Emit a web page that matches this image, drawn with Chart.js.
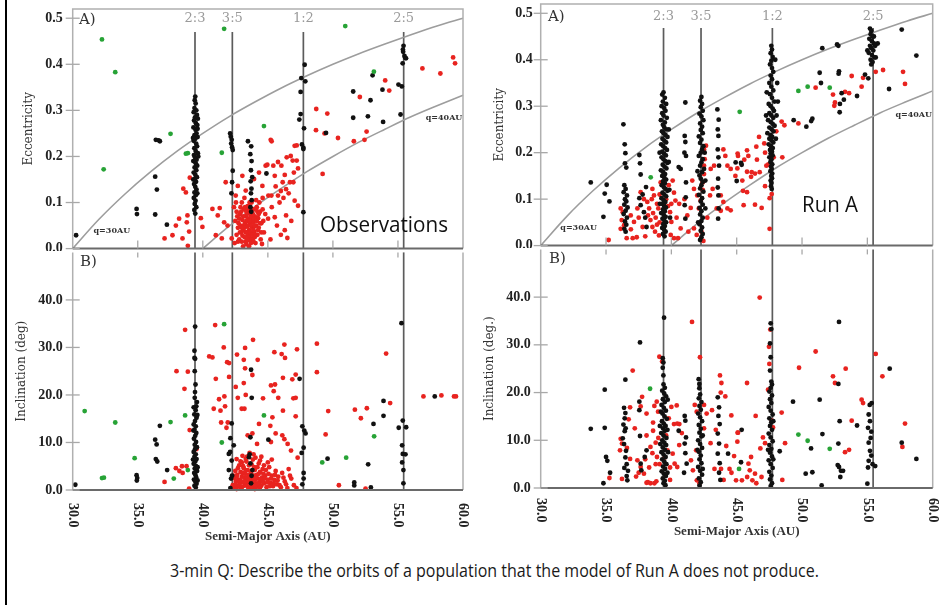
<!DOCTYPE html>
<html>
<head>
<meta charset="utf-8">
<script src="https://cdn.jsdelivr.net/npm/chart.js@4.4.0/dist/chart.umd.min.js"></script>
<style>
  body { margin: 0; background: #fff; width: 951px; height: 605px; overflow: hidden; position: relative; }
  .panel { position: absolute; }
  #edge { position: absolute; left: 5px; top: 0; width: 2px; height: 605px; background: #000; }
  #caption { position: absolute; left: 170px; top: 557px; white-space: nowrap; font-family: "Open Sans", sans-serif; font-size: 19px; color: #1a1a1a; transform-origin: 0 0; }
</style>
</head>
<body>
<div id="edge"></div>
<canvas id="obsA" class="panel" style="left:0;top:0" width="475" height="251"></canvas>
<canvas id="obsB" class="panel" style="left:0;top:250px" width="475" height="300"></canvas>
<canvas id="runA" class="panel" style="left:470px;top:0" width="475" height="248"></canvas>
<canvas id="runB" class="panel" style="left:470px;top:247px" width="475" height="300"></canvas>
<div id="caption">3-min Q: Describe the orbits of a population that the model of Run A does not produce.</div>
<script>
// axes
const xTicks = [30, 35, 40, 45, 50, 55, 60];
const eccTicks = [0, 0.1, 0.2, 0.3, 0.4, 0.5];
const incTicks = [0, 10, 20, 30, 40];
const resonances = [39.4, 42.27, 47.73, 55.44];
const resonanceNames = ['2:3', '3:5', '1:2', '2:5'];

// perihelion curves
const q30Curve = [[30,0],[32,0.063],[34,0.118],[36,0.167],[38,0.211],[40,0.25],[42,0.286],[44,0.318],[46,0.348],[48,0.375],[50,0.4],[52,0.423],[54,0.444],[56,0.464],[58,0.483],[60,0.5]];
const q40Curve = [[40,0],[42,0.048],[44,0.091],[46,0.13],[48,0.167],[50,0.2],[52,0.231],[54,0.259],[56,0.286],[58,0.31],[60,0.333]];

// Observations: semi-major axis vs eccentricity
const obsEccGreen = [[32.25,0.454],[33.27,0.383],[32.38,0.172],[37.52,0.249],[38.70,0.206],[38.85,0.207],[41.64,0.477],[41.46,0.208],[44.7,0.266],[50.95,0.483],[53.15,0.384]];
const obsEccBlack = [[30.26,0.029],[34.91,0.086],[34.94,0.075],[36.34,0.156],[36.47,0.128],[36.34,0.074],[36.39,0.236],[36.7,0.233],[36.6,0.235],[37.24,0.052],
  [39.42,0.33],[39.38,0.322],[39.45,0.315],[39.36,0.305],[39.5,0.3],[39.3,0.296],[39.55,0.29],[39.4,0.285],[39.62,0.282],[39.33,0.278],[39.47,0.272],[39.58,0.268],[39.28,0.263],[39.44,0.258],[39.52,0.25],[39.36,0.246],[39.6,0.242],[39.41,0.238],[39.3,0.234],[39.49,0.228],[39.56,0.222],[39.35,0.218],[39.45,0.212],[39.62,0.207],[39.32,0.203],[39.4,0.198],[39.52,0.193],[39.27,0.19],[39.46,0.185],[39.57,0.18],[39.37,0.176],[39.5,0.17],[39.3,0.165],[39.43,0.16],[39.55,0.155],[39.38,0.15],[39.48,0.145],[39.33,0.14],[39.42,0.134],[39.52,0.128],[39.36,0.122],[39.46,0.116],[39.31,0.11],[39.44,0.104],[39.38,0.097],[39.5,0.09],[39.35,0.084],[39.42,0.076],[39.6,0.26],[39.25,0.24],[39.65,0.2],[39.27,0.15],[39.58,0.12],
  [42.1,0.25],[42.15,0.243],[42.22,0.236],[42.18,0.228],[42.25,0.22],[42.3,0.214],[42.3,0.169],[42.25,0.144],[42.2,0.12],
  [43.47,0.233],[43.72,0.222],[43.65,0.205],[43.75,0.19],[43.7,0.17],[43.8,0.155],[43.68,0.146],[43.74,0.13],[43.7,0.12],[43.76,0.105],[43.66,0.09],[43.72,0.08],[44.89,0.163],
  [47.83,0.399],[47.57,0.37],[47.88,0.363],[47.52,0.34],[47.52,0.292],[47.42,0.28],[47.78,0.261],[47.62,0.226],[47.73,0.219],[47.73,0.216],[47.73,0.079],
  [49.47,0.251],[51.56,0.341],[51.56,0.284],[52.89,0.322],[52.69,0.287],[53.05,0.376],[53.81,0.345],[53.86,0.275],
  [55.43,0.44],[55.38,0.432],[55.4,0.427],[55.5,0.418],[55.56,0.414],[55.62,0.413],[55.36,0.402],[55.04,0.356],[55.3,0.352],[55.2,0.291]];
const obsEccRed = [[42.5,0.06],[42.6,0.03],[42.7,0.045],[42.8,0.02],[42.85,0.075],[42.9,0.05],[42.95,0.035],[43.0,0.015],[43.05,0.062],[43.1,0.04],[43.15,0.085],[43.2,0.025],[43.25,0.055],[43.3,0.07],[43.3,0.035],[43.35,0.01],[43.4,0.048],[43.45,0.092],[43.45,0.028],[43.5,0.065],[43.55,0.04],[43.6,0.078],[43.6,0.018],[43.65,0.055],[43.7,0.032],[43.75,0.1],[43.75,0.068],[43.8,0.045],[43.85,0.022],[43.9,0.085],[43.9,0.058],[43.95,0.036],[44.0,0.07],[44.05,0.012],[44.1,0.05],[44.15,0.09],[44.2,0.03],[44.25,0.066],[44.3,0.045],[44.4,0.08],[44.45,0.02],[44.5,0.055],[44.6,0.11],[44.7,0.035],[44.8,0.075],[42.4,0.09],[42.45,0.012],[42.55,0.1],[42.65,0.07],[42.75,0.055],[43.0,0.1],[43.1,0.005],[43.2,0.11],[43.35,0.06],[43.55,0.005],[43.65,0.09],[43.85,0.06],[44.0,0.025],[44.35,0.1],[44.55,0.01],[43.4,0.075],[43.95,0.048],[44.2,0.08],[43.15,0.05],[43.7,0.012],[42.9,0.09],[44.65,0.06],
  [42.6,0.08],[42.7,0.015],[42.8,0.065],[42.95,0.08],[43.05,0.028],[43.1,0.07],[43.2,0.045],[43.25,0.09],[43.3,0.015],[43.4,0.035],[43.45,0.06],[43.5,0.05],[43.5,0.085],[43.55,0.025],[43.6,0.06],[43.65,0.035],[43.7,0.07],[43.7,0.05],[43.75,0.02],[43.8,0.085],[43.8,0.03],[43.85,0.075],[43.9,0.04],[43.95,0.065],[44.0,0.05],[44.05,0.085],[44.1,0.03],[44.15,0.06],[44.25,0.04],[44.3,0.075],[44.4,0.055],[44.5,0.035],[44.6,0.085],[43.35,0.08],[43.6,0.1],[44.1,0.105],[42.85,0.035],[43.0,0.045],[43.4,0.02],[43.9,0.015],
  [39.0,0.154],[38.5,0.13],[38.7,0.122],[38.82,0.072],[38.77,0.057],[38.95,0.037],[38.44,0.022],[37.93,0.05],[37.67,0.029],[37.06,0.022],[38.18,0.065],[38.85,0.006],[39.85,0.066],[39.97,0.047],[40.74,0.086],[41.15,0.072],[41.3,0.088],[41.64,0.057],[41.76,0.144],[41.9,0.05],[41.0,0.029],[41.46,0.022],[42.22,0.022],[42.53,0.115],[42.69,0.136],[43.04,0.158],[43.3,0.126],[43.94,0.151],[44.32,0.165],[44.83,0.18],[44.58,0.136],[45.29,0.233],[45.04,0.115],
  [45.22,0.236],[44.96,0.182],[45.42,0.18],[45.78,0.188],[46.04,0.18],[46.45,0.198],[46.76,0.201],[47.06,0.223],[47.22,0.224],[46.91,0.191],[47.22,0.191],[47.32,0.174],[45.53,0.158],[46.14,0.144],[46.7,0.144],[46.96,0.144],[46.4,0.129],[45.78,0.115],[45.27,0.115],[47.32,0.093],[46.4,0.072],[46.3,0.04],[46.5,0.023],[45.53,0.068],[45.02,0.065],[47.06,0.104],[45.9,0.1],[46.2,0.11],[46.6,0.12],[45.6,0.135],[46.0,0.125],[45.3,0.09],[45.7,0.05],[46.0,0.03],[45.2,0.02],[46.8,0.06],[47.0,0.165],[46.3,0.16],
  [48.72,0.303],[49.57,0.293],[48.7,0.257],[49.36,0.25],[50.39,0.24],[51.61,0.233],[52.07,0.329],[52.43,0.236],[52.59,0.254],[54.02,0.365],[54.33,0.343],[56.88,0.391],[58.26,0.38],[59.24,0.415],[59.39,0.402],[49.21,0.162]];

// Observations: semi-major axis vs inclination (deg)
const obsIncGreen = [[30.92,16.6],[33.27,14.2],[34.76,6.7],[32.25,2.5],[32.4,2.6],[37.52,14.3],[37.77,2.4],[38.64,15.7],[38.85,4.2],[41.64,34.9],[41.46,10.0],[44.7,15.7],[49.18,5.8],[51.02,6.8],[53.17,11.3]];
const obsIncBlack = [[30.2,1.1],[34.91,3.1],[34.96,2.5],[34.93,2.0],[36.34,10.6],[36.45,9.6],[36.39,6.5],[36.5,6.0],[36.7,13.5],[37.26,4.2],
  [39.41,34.4],[39.36,29.3],[39.36,27.8],[39.41,27.6],[39.38,25.0],[39.44,22.2],[39.4,20.6],[39.38,19.4],[39.5,17.6],[39.3,17.4],[39.45,16.8],[39.35,15.9],[39.52,15.2],[39.4,14.5],[39.3,13.8],[39.46,13.4],[39.36,12.7],[39.5,12.0],[39.42,11.4],[39.32,10.8],[39.48,10.1],[39.38,9.5],[39.55,9.0],[39.4,8.6],[39.3,8.0],[39.46,7.5],[39.36,7.0],[39.52,6.5],[39.42,6.0],[39.3,5.5],[39.48,5.0],[39.38,4.5],[39.56,4.0],[39.34,3.6],[39.44,3.1],[39.5,2.6],[39.32,2.2],[39.42,1.8],[39.52,1.3],[39.36,0.9],[39.46,0.5],[39.6,4.8],[39.25,6.4],[39.6,2.0],[39.28,12.5],[39.58,15.8],[39.55,18.5],
  [42.22,14.0],[42.12,10.9],[42.38,9.4],[42.0,7.6],[42.22,6.2],[42.0,4.2],[42.17,2.4],[42.12,0.4],[42.25,3.0],[42.1,8.0],
  [43.71,25.3],[43.76,19.4],[43.66,11.1],[43.55,6.9],[43.66,5.6],[43.81,4.2],[43.71,1.4],[43.6,7.5],[43.75,3.0],
  [45.04,10.6],[47.44,23.4],[47.65,13.4],[47.8,12.5],[47.9,11.9],[47.75,8.9],[47.6,7.8],[47.75,3.6],[47.75,2.4],[47.65,1.2],[49.59,6.6],[51.64,1.6],[51.64,0.97],[52.92,0.55],[52.71,5.4],[53.12,13.9],[53.89,18.75],[53.89,15.6],[55.27,35.1],[55.37,14.6],[55.06,13.1],[55.63,13.2],[55.32,9.4],[55.37,7.6],[55.58,7.5],[55.32,5.8],[55.42,4.2],[55.42,1.4],[57.83,19.7]];
const obsIncRed = [[38.64,33.7],[37.98,25.0],[38.85,24.9],[38.59,21.3],[38.99,12.6],[38.4,5.0],[38.75,5.0],[37.93,4.6],[38.2,4.0],[38.45,3.6],[37.06,1.7],[38.95,0.3],[39.51,8.6],
  [40.49,28.1],[40.74,27.9],[40.95,34.7],[41.61,30.0],[41.87,26.9],[42.02,26.7],[41.0,23.4],[42.02,23.8],[41.66,19.7],[41.25,19.1],[40.84,17.1],[41.36,16.7],[41.71,17.6],[41.41,14.2],[41.82,13.1],[41.92,14.2],
  [42.63,28.5],[43.25,29.9],[43.15,27.4],[43.25,25.6],[43.86,31.6],[44.22,27.4],[43.81,24.2],[43.15,22.5],[42.53,21.7],[42.69,19.4],[43.3,20.0],[42.99,17.1],[43.2,17.1],[44.63,19.3],[45.5,29.0],[46.06,28.6],[46.27,30.6],[46.32,27.8],[45.55,22.2],[45.24,22.0],[45.45,20.8],[45.8,19.4],[46.16,23.6],[46.88,23.3],[47.24,29.6],[47.14,24.3],[46.96,19.3],[47.14,19.4],[46.16,16.7],[45.35,15.3],[45.19,13.5],[45.6,11.9],[46.11,11.5],[47.14,15.5],[44.32,13.9],[43.81,11.9],[43.45,11.5],[44.17,9.7],[45.24,10.1],[46.27,10.7],[46.52,9.7],[46.78,8.3],[47.29,6.8],
  [48.77,30.8],[48.77,24.8],[49.44,11.7],[49.64,16.6],[50.46,1.0],[51.69,16.9],[52.15,15.1],[52.61,17.2],[52.51,0.3],[54.09,28.7],[54.4,18.3],[56.96,19.7],[58.34,19.9],[59.31,19.7],[59.46,19.7],
  [42.3,1.0],[42.4,2.5],[42.45,0.5],[42.5,4.0],[42.55,1.8],[42.6,6.5],[42.65,3.2],[42.7,0.8],[42.75,2.2],[42.8,5.2],[42.85,1.4],[42.9,3.8],[42.95,0.3],[43.0,2.8],[43.05,7.2],[43.1,1.6],[43.15,4.6],[43.2,0.9],[43.25,3.4],[43.3,2.0],[43.35,6.0],[43.4,1.2],[43.45,4.2],[43.5,0.4],[43.55,2.6],[43.6,7.8],[43.65,1.8],[43.7,3.6],[43.75,5.4],[43.8,1.0],[43.85,2.8],[43.9,0.5],[43.95,4.8],[44.0,2.0],[44.05,6.8],[44.1,1.3],[44.15,3.2],[44.2,0.7],[44.25,2.4],[44.3,5.6],[44.35,1.6],[44.4,3.8],[44.5,0.9],[44.55,2.6],[44.6,4.4],[44.7,1.4],[44.8,3.0],[44.9,0.6],[45.0,2.2],[45.1,4.8],[45.2,1.5],[45.3,3.0],[45.4,0.8],[45.5,2.1],[45.6,4.0],[45.7,1.2],[45.8,2.8],[46.0,0.6],[46.1,3.6],[46.3,1.8],[46.5,0.4],[46.6,4.4],[46.8,2.4],[47.0,1.0],[47.2,0.4],[43.0,5.8],[43.4,7.0],[43.9,7.5],[44.4,6.2],[42.6,0.2],[43.5,1.6],[44.0,0.2],[44.7,5.2],[45.3,6.4],[43.2,2.6],[43.8,3.0],
  [42.35,3.0],[42.5,1.2],[42.6,2.8],[42.7,4.6],[42.8,1.0],[42.9,2.0],[43.0,0.6],[43.05,3.6],[43.1,5.0],[43.2,1.8],[43.3,4.2],[43.4,2.6],[43.45,0.8],[43.5,3.2],[43.55,5.2],[43.6,1.2],[43.65,2.4],[43.7,0.6],[43.75,4.0],[43.8,2.0],[43.85,6.4],[43.9,1.6],[43.95,3.0],[44.0,4.2],[44.05,1.0],[44.1,2.6],[44.2,4.8],[44.25,1.4],[44.3,3.4],[44.4,0.5],[44.45,2.2],[44.6,1.8],[44.65,3.4],[44.75,2.4],[44.85,4.2],[44.95,1.6],[45.05,3.4],[45.15,0.8],[45.25,2.4],[45.45,1.4],[45.55,3.2],[45.75,2.0],[45.9,1.0],[46.2,2.6],[46.4,1.2],[46.7,3.0],[43.3,6.6],[44.5,7.0],[42.9,6.0],[45.0,5.8]];

// Run A: semi-major axis vs eccentricity
const runEccGreen = [[38.42,0.147],[45.23,0.288],[49.72,0.333],[50.43,0.342],[52.12,0.34]];
const runEccBlack = [[33.83,0.136],[34.8,0.062],[34.9,0.112],[35.05,0.131],[35.26,0.095],[36.33,0.261],[36.43,0.218],[36.48,0.199],[36.45,0.177],[36.55,0.168],
  [36.4,0.13],[36.5,0.122],[36.35,0.115],[36.6,0.108],[36.45,0.1],[36.55,0.095],[36.4,0.088],[36.65,0.082],[36.5,0.075],[36.35,0.068],[36.6,0.06],[36.45,0.052],[36.55,0.045],[36.4,0.036],[36.5,0.03],
  [37.55,0.195],[37.6,0.177],[37.65,0.153],[38.06,0.126],[37.55,0.102],[37.65,0.087],[37.9,0.072],[38.1,0.04],[37.8,0.11],[38.0,0.06],
  [39.4,0.33],[39.3,0.325],[39.5,0.318],[39.35,0.31],[39.6,0.305],[39.25,0.3],[39.45,0.296],[39.55,0.29],[39.3,0.285],[39.4,0.28],[39.65,0.275],[39.2,0.27],[39.5,0.265],[39.35,0.26],[39.45,0.255],[39.6,0.25],[39.28,0.246],[39.4,0.242],[39.55,0.238],[39.7,0.234],[39.32,0.23],[39.46,0.226],[39.6,0.222],[39.22,0.218],[39.38,0.214],[39.52,0.21],[39.66,0.206],[39.3,0.202],[39.44,0.198],[39.58,0.194],[39.25,0.19],[39.4,0.186],[39.54,0.182],[39.7,0.178],[39.34,0.174],[39.48,0.17],[39.62,0.166],[39.2,0.162],[39.38,0.158],[39.52,0.154],[39.3,0.15],[39.46,0.146],[39.6,0.142],[39.36,0.138],[39.5,0.134],[39.26,0.13],[39.42,0.126],[39.56,0.122],[39.7,0.118],[39.32,0.114],[39.46,0.11],[39.6,0.106],[39.24,0.102],[39.4,0.098],[39.54,0.094],[39.3,0.09],[39.44,0.086],[39.58,0.082],[39.36,0.078],[39.5,0.074],[39.22,0.07],[39.42,0.066],[39.56,0.062],[39.32,0.058],[39.46,0.054],[39.6,0.05],[39.38,0.046],[39.5,0.042],[39.3,0.038],[39.44,0.034],[39.56,0.03],[39.36,0.025],[39.48,0.02],[39.8,0.25],[39.85,0.12],[39.9,0.06],[39.1,0.2],[39.12,0.09],[39.8,0.18],
  [41.07,0.308],[41.02,0.236],[41.07,0.223],[41.0,0.2],[41.12,0.193],[40.56,0.169],[40.71,0.165],[41.12,0.136],[41.1,0.104],[41.02,0.087],[41.07,0.058],
  [42.3,0.32],[42.2,0.312],[42.35,0.305],[42.25,0.298],[42.4,0.29],[42.15,0.284],[42.3,0.278],[42.45,0.27],[42.2,0.263],[42.35,0.256],[42.25,0.249],[42.4,0.242],[42.1,0.235],[42.3,0.228],[42.2,0.221],[42.45,0.214],[42.35,0.207],[42.25,0.2],[42.1,0.193],[42.4,0.186],[42.3,0.179],[42.2,0.172],[42.5,0.165],[42.35,0.158],[42.15,0.151],[42.25,0.144],[42.4,0.137],[42.3,0.13],[42.2,0.123],[42.45,0.116],[42.1,0.109],[42.35,0.102],[42.25,0.095],[42.4,0.088],[42.15,0.081],[42.3,0.074],[42.2,0.067],[42.4,0.06],[42.3,0.053],[42.15,0.046],[42.35,0.039],[42.25,0.032],[42.4,0.025],[42.3,0.018],[42.2,0.012],[42.6,0.14],[42.55,0.2],[42.0,0.16],[42.05,0.05],[42.6,0.08],
  [43.52,0.293],[43.62,0.271],[43.6,0.236],[43.55,0.207],[43.65,0.172],[43.58,0.144],[43.6,0.108],[43.62,0.08],[43.58,0.058],[43.55,0.25],[43.6,0.19],[43.55,0.125],
  [47.65,0.43],[47.7,0.422],[47.6,0.414],[47.75,0.406],[47.65,0.398],[47.55,0.39],[47.7,0.382],[47.8,0.374],[47.6,0.366],[47.7,0.358],[47.5,0.35],[47.65,0.342],[47.8,0.334],[47.55,0.326],[47.7,0.318],[47.9,0.31],[47.45,0.305],[47.6,0.3],[47.75,0.295],[47.85,0.29],[47.5,0.285],[47.65,0.28],[47.8,0.275],[47.4,0.27],[47.6,0.266],[47.75,0.262],[47.9,0.258],[47.5,0.254],[47.68,0.25],[47.82,0.246],[47.35,0.242],[47.58,0.238],[47.72,0.234],[47.5,0.23],[47.66,0.226],[47.8,0.222],[47.45,0.218],[47.62,0.214],[47.76,0.21],[47.55,0.206],[47.7,0.202],[47.6,0.198],[47.75,0.194],[47.5,0.19],[47.66,0.186],[47.58,0.18],[47.72,0.175],[47.62,0.17],[47.68,0.165],[47.58,0.16],[47.72,0.155],[47.64,0.15],[47.7,0.145],[47.6,0.14],[47.66,0.135],[47.62,0.128],[47.68,0.122],[48.1,0.35],[48.05,0.28],[48.15,0.31],[47.3,0.33],[47.25,0.28],[48.0,0.23],[47.95,0.4],
  [51.55,0.425],[52.68,0.433],[52.78,0.43],[51.35,0.372],[51.45,0.35],[52.83,0.375],[52.8,0.37],[53.03,0.328],[53.2,0.314],[52.9,0.305],[52.88,0.287],[54.21,0.322],[49.36,0.27],[50.79,0.273],[50.7,0.268],[50.33,0.256],[54.82,0.368],[55.07,0.36],[55.64,0.405],[55.79,0.435],[57.63,0.465],[58.75,0.409],[56.66,0.337],[44.92,0.179],[45.33,0.178],[45.38,0.174],[45.0,0.139],
  [55.2,0.467],[55.3,0.462],[55.25,0.455],[55.4,0.45],[55.15,0.445],[55.35,0.44],[55.5,0.435],[55.2,0.43],[55.3,0.425],[55.45,0.42],[55.1,0.415],[55.35,0.41],[55.55,0.405],[55.25,0.4],[55.4,0.395],[55.3,0.39],[55.0,0.42],[55.6,0.43],[55.5,0.45]];
const runEccRed = [[35.2,0.012],[36.12,0.036],[36.38,0.044],[36.58,0.016],[37.04,0.016],[37.35,0.018],[36.12,0.08],[36.28,0.072],[36.89,0.065],[37.14,0.051],[37.4,0.08],[37.65,0.115],[37.9,0.1],[38.16,0.094],[38.21,0.065],[38.4,0.055],[38.55,0.04],[38.75,0.03],[38.9,0.045],[39.05,0.022],[38.55,0.122],[38.67,0.108],[39.18,0.136],[38.9,0.09],[39.0,0.08],[40.1,0.14],[40.2,0.114],[40.31,0.097],[39.9,0.072],[40.0,0.051],[39.95,0.023],[40.2,0.016],[40.51,0.016],[40.71,0.037],[41.22,0.065],[41.48,0.081],[41.73,0.122],[41.98,0.108],[42.24,0.097],[42.1,0.08],[41.73,0.037],[41.94,0.023],[42.4,0.136],[42.5,0.154],[42.5,0.172],[42.5,0.207],[42.65,0.215],[42.55,0.186],[43.01,0.165],[43.27,0.172],[43.16,0.122],[42.96,0.108],[43.78,0.108],[43.98,0.094],[43.47,0.08],[43.78,0.075],[44.29,0.08],[44.54,0.076],[43.98,0.207],[44.13,0.193],[44.29,0.172],[44.54,0.165],[44.9,0.15],[45.05,0.166],[45.1,0.193],[42.4,0.12],[42.75,0.06],[42.3,0.03],[42.45,0.01],
  [38.3,0.08],[38.6,0.07],[38.8,0.06],[39.1,0.05],[38.5,0.1],[37.8,0.04],[37.5,0.06],[38.0,0.02],[39.1,0.11],[39.6,0.1],[39.75,0.085],[39.8,0.13],[40.0,0.09],[40.4,0.06],[40.6,0.09],[41.0,0.1],[41.3,0.03],[36.2,0.055],[36.9,0.035],[41.6,0.14],
  [46.71,0.234],[46.5,0.213],[47.11,0.22],[47.17,0.2],[45.07,0.198],[45.79,0.205],[45.89,0.193],[45.58,0.185],[46.55,0.185],[45.79,0.159],[46.15,0.158],[46.4,0.155],[46.76,0.158],[47.27,0.172],[47.42,0.175],[47.83,0.19],[48.49,0.19],[45.43,0.14],[46.1,0.148],[47.17,0.128],[45.48,0.118],[45.79,0.115],[47.68,0.111],[47.52,0.102],[45.53,0.087],[46.4,0.088],[46.91,0.081],[47.52,0.036],[48.44,0.267],[48.65,0.259],[48.03,0.246],[49.72,0.263],[51.04,0.34],[52.52,0.308],[52.47,0.301],[52.37,0.325],[53.29,0.331],[53.6,0.328],[53.8,0.365],[54.56,0.342],[54.67,0.361],[55.64,0.374],[56.2,0.378],[57.73,0.374],[57.88,0.348]];

// Run A: semi-major axis vs inclination (deg)
const runIncGreen = [[38.37,20.8],[49.72,11.2],[50.43,9.9],[52.12,8.2],[45.18,4.0]];
const runIncBlack = [[33.83,12.4],[34.9,20.6],[34.9,12.6],[35.0,6.5],[35.1,5.7],[35.31,3.2],[34.8,1.0],[37.6,30.5],[36.48,22.7],
  [36.38,16.8],[36.48,15.7],[36.43,14.6],[36.33,13.3],[36.43,11.9],[36.28,10.4],[36.38,9.2],[36.53,7.8],[36.48,6.4],[36.58,5.0],[36.68,3.6],[36.58,2.5],[36.63,1.6],[36.4,4.2],[36.5,12.5],
  [37.55,18.1],[37.55,16.3],[37.6,10.9],[38.1,7.9],[37.96,6.5],[37.65,5.1],[37.7,3.7],
  [39.44,35.7],[39.34,27.2],[39.39,26.3],[39.34,25.2],[39.39,23.6],
  [39.4,21.7],[39.5,21.0],[39.3,20.4],[39.45,19.8],[39.6,19.2],[39.35,18.6],[39.5,18.0],[39.25,17.4],[39.42,16.8],[39.58,16.2],[39.32,15.6],[39.48,15.0],[39.65,14.5],[39.28,14.0],[39.42,13.5],[39.56,13.0],[39.36,12.5],[39.5,12.0],[39.22,11.5],[39.4,11.0],[39.62,10.5],[39.3,10.0],[39.46,9.5],[39.6,9.0],[39.34,8.5],[39.5,8.0],[39.24,7.5],[39.4,7.0],[39.56,6.5],[39.3,6.0],[39.46,5.5],[39.62,5.0],[39.36,4.5],[39.52,4.0],[39.26,3.5],[39.42,3.0],[39.58,2.5],[39.34,2.0],[39.5,1.5],[39.4,1.0],[39.55,0.6],[39.7,12.2],[39.15,9.2],[39.7,3.2],[39.2,16.0],[39.72,18.5],[39.12,13.0],[39.75,7.5],
  [41.02,15.1],[41.07,14.1],[40.56,12.0],[41.12,10.6],[41.02,9.3],[41.07,7.3],[41.17,5.1],[40.97,3.2],
  [42.09,22.8],[42.14,21.8],[42.14,20.9],[42.2,19.6],[42.1,18.8],[42.3,18.0],[42.15,17.2],[42.25,16.4],[42.05,15.6],[42.2,14.8],[42.35,14.0],[42.1,13.2],[42.25,12.4],[42.15,11.6],[42.3,10.8],[42.05,10.0],[42.2,9.2],[42.35,8.4],[42.1,7.6],[42.25,6.8],[42.15,6.0],[42.3,5.2],[42.05,4.4],[42.2,3.6],[42.35,2.8],[42.1,2.0],[42.25,1.2],[42.15,0.5],[42.4,11.0],[42.4,4.0],[42.0,8.0],
  [43.55,19.0],[43.65,16.9],[43.6,15.1],[43.7,13.4],[43.55,11.4],[43.65,9.3],[43.55,7.2],[43.7,5.2],[43.65,3.2],[43.75,1.7],
  [44.34,7.2],[45.38,12.2],[45.33,5.4],[49.31,18.1],[51.35,18.5],[52.83,34.8],[52.78,21.8],[52.88,14.0],[54.21,13.1],[51.56,11.3],[50.69,8.3],[52.78,9.3],[52.73,4.8],[52.83,4.4],[52.98,3.6],[53.14,3.6],[52.93,2.3],[50.28,3.0],[50.79,3.3],[51.5,0.55],[48.29,7.7],[56.71,25.0],[57.63,9.5],[58.75,6.1],
  [47.6,34.5],[47.65,33.3],[47.55,30.3],[47.6,27.4],[47.55,24.6],[47.65,22.3],[47.7,21.7],[47.6,21.0],[47.5,20.2],[47.7,19.4],[47.55,18.6],[47.65,17.8],[47.45,17.0],[47.6,16.2],[47.75,15.4],[47.5,14.6],[47.65,13.8],[47.55,13.0],[47.7,12.2],[47.45,11.4],[47.6,10.6],[47.75,9.8],[47.5,9.0],[47.65,8.2],[47.55,7.4],[47.7,6.6],[47.45,5.8],[47.6,5.0],[47.75,4.2],[47.5,3.4],[47.65,2.6],[47.55,1.8],[47.7,1.0],[47.6,0.4],[47.8,14.0],[47.8,6.0],[47.4,8.0],
  [55.33,17.8],[55.18,17.4],[55.1,15.4],[55.2,14.0],[55.05,12.6],[55.25,10.5],[55.1,9.5],[55.2,7.8],[55.3,6.8],[55.1,5.7],[55.4,5.0],[55.6,4.6],[55.05,4.3],[55.0,0.9],[55.3,11.8]];
const runIncRed = [[46.76,39.9],[47.57,33.2],[47.47,29.6],[49.77,25.2],[51.04,28.6],[53.34,25.0],[52.37,23.4],[52.52,22.0],[54.56,18.5],[54.67,17.8],[55.64,28.1],[56.15,23.4],[45.79,22.0],[46.45,15.1],[45.07,11.6],[48.44,15.8],[48.7,9.4],[47.01,10.6],[47.17,9.4],[46.81,8.3],[47.68,14.1],[47.78,12.7],[53.8,14.1],[53.29,7.5],[53.6,8.0],[57.88,13.5],[57.68,8.6],[48.49,1.7],[46.1,6.5],[45.9,5.1],[46.0,3.7],[45.8,2.3],[46.4,3.0],[46.9,2.3],[46.5,1.0],[45.4,1.6],[46.2,1.6],[47.4,20.6],[47.5,26.0],
  [41.58,34.8],[42.19,27.4],[37.04,24.6],[39.08,27.5],[39.29,26.5],[36.84,16.9],[36.73,14.4],[37.76,19.1],[37.65,17.1],[38.88,18.1],[38.98,16.0],[40.41,17.3],[40.61,13.4],[41.79,17.4],[41.94,16.0],[42.5,17.4],[42.7,15.6],[43.11,16.3],[43.72,23.6],[43.83,22.0],[43.78,20.0],[44.13,19.2],[44.59,15.2],[45.1,11.6],[40.2,13.4],[40.45,13.5],[36.12,10.3],[36.22,9.3],[36.07,7.9],[36.84,6.1],[37.4,5.8],[37.65,4.4],[37.5,3.2],[37.3,2.4],[38.1,1.1],[38.2,1.2],[38.4,1.0],[38.7,1.0],[38.85,1.4],[35.26,2.1],[36.22,1.9],[38.4,8.6],[38.55,7.3],[38.9,6.5],[38.8,5.0],[39.1,5.0],[39.7,7.9],[40.1,7.2],[40.25,5.1],[40.45,4.4],[39.9,1.7],[43.3,4.0],[43.8,4.0],[44.0,1.7],[44.45,4.0],[44.8,6.7],[44.95,1.6],[41.5,5.8],[41.65,3.7],[42.15,1.0],[41.95,1.6],[41.9,7.9],[38.1,15.6],[38.6,13.7],[38.6,12.0],[39.0,10.5],[38.8,9.5],[38.1,11.0],[37.2,12.5],[36.6,8.4],[37.9,3.0],[40.6,9.0],[40.8,11.5],[42.5,12.5],[43.0,9.4],[43.4,12.2],[44.2,8.8],[44.6,3.2],[45.05,9.7],[38.0,6.0],[39.5,6.4],[39.6,11.0],[40.0,17.0],[39.8,14.6],[38.7,17.2],[38.3,4.3],[39.9,4.3]];

const RED = '#e8231f';
const BLACK = '#111111';
const GREEN = '#27a336';
const serif = 'DejaVu Serif';
const tickFont = 'Liberation Serif';

function toXY(list) {
  return list.map(p => ({ x: p[0], y: p[1] }));
}

function dots(list, color, order) {
  return { type: 'scatter', data: toXY(list), backgroundColor: color, borderWidth: 0,
    pointRadius: 2.4, pointHoverRadius: 2.4, order: order, clip: false };
}

function curve(list) {
  return { type: 'line', data: toXY(list), borderColor: '#9d9d9d', borderWidth: 1.6,
    pointRadius: 0, fill: false, cubicInterpolationMode: 'monotone', order: 10, clip: false };
}

// extra drawing: frame, tick marks, resonance lines and labels
const decor = {
  id: 'decor',
  beforeDatasetsDraw(chart, args, o) {
    const { ctx, chartArea: a, scales: { x } } = chart;
    ctx.save();
    ctx.strokeStyle = '#5c5c5c';
    ctx.lineWidth = 1.7;
    resonances.forEach(r => {
      const px = x.getPixelForValue(r);
      ctx.beginPath();
      ctx.moveTo(px, o.lineTop != null ? o.lineTop : a.top);
      ctx.lineTo(px, a.bottom);
      ctx.stroke();
    });
    ctx.restore();
  },
  afterDatasetsDraw(chart, args, o) {
    const { ctx, chartArea: a, scales: { x, y } } = chart;
    ctx.save();
    // frame
    ctx.strokeStyle = '#b0b0b0';
    ctx.lineWidth = 1.5;
    ctx.beginPath();
    ctx.moveTo(a.left, a.bottom); ctx.lineTo(a.left, a.top);
    if (o.panel === 'A') ctx.lineTo(a.right, a.top); else ctx.moveTo(a.right, a.top);
    ctx.lineTo(a.right, a.bottom);
    ctx.stroke();
    ctx.strokeStyle = '#6a6a6a';
    ctx.lineWidth = 2;
    ctx.beginPath();
    ctx.moveTo(a.left, a.bottom); ctx.lineTo(a.right, a.bottom);
    ctx.stroke();
    // y tick marks across the axis
    ctx.strokeStyle = '#a8a8a8';
    ctx.lineWidth = 1.3;
    o.yTicks.forEach(v => {
      const py = y.getPixelForValue(v);
      ctx.beginPath(); ctx.moveTo(a.left - 7, py); ctx.lineTo(a.left + 7, py); ctx.stroke();
    });
    // x tick marks on the shared boundary
    xTicks.slice(1, -1).forEach(v => {
      const px = x.getPixelForValue(v);
      ctx.beginPath();
      if (o.panel === 'A') { ctx.moveTo(px, a.bottom); ctx.lineTo(px, a.bottom - 8); }
      else { ctx.moveTo(px, a.top); ctx.lineTo(px, a.top + 5); }
      ctx.stroke();
    });
    // panel letter
    ctx.fillStyle = '#333';
    ctx.font = '15px "' + serif + '"';
    ctx.textAlign = 'left';
    ctx.textBaseline = 'alphabetic';
    ctx.fillText(o.letter, o.letterX, o.letterY);
    if (o.panel === 'A') {
      // resonance names
      ctx.fillStyle = '#9a9a9a';
      ctx.font = '13px "' + serif + '"';
      ctx.textAlign = 'center';
      ctx.textBaseline = 'middle';
      resonances.forEach((r, i) => ctx.fillText(resonanceNames[i], x.getPixelForValue(r), o.namesY));
      // curve notes
      ctx.fillStyle = '#333';
      ctx.font = 'bold 8px "' + serif + '"';
      o.notes.forEach(n => {
        ctx.textAlign = n.align;
        ctx.fillText(n.text, x.getPixelForValue(n.a), y.getPixelForValue(n.v));
      });
      // big label
      ctx.fillStyle = '#111';
      ctx.font = o.big.size + 'px "Open Sans"';
      ctx.textAlign = 'left';
      ctx.textBaseline = 'alphabetic';
      ctx.fillText(o.big.text, o.big.x, o.big.y, o.big.w);
    } else {
      // rotated x tick labels, reading downward
      ctx.fillStyle = '#222';
      ctx.font = 'bold 14px "' + tickFont + '"';
      ctx.textAlign = 'left';
      ctx.textBaseline = 'middle';
      xTicks.forEach(v => {
        ctx.save();
        ctx.translate(x.getPixelForValue(v), a.bottom + o.tickGap);
        ctx.rotate(Math.PI / 2);
        ctx.fillText(v.toFixed(1), 0, 0);
        ctx.restore();
      });
    }
    ctx.restore();
  }
};

function makePanel(id, c) {
  return new Chart(document.getElementById(id), {
    type: 'scatter',
    data: { datasets: c.datasets },
    options: {
      responsive: false,
      animation: false,
      events: [],
      layout: { padding: c.padding },
      plugins: { legend: { display: false }, tooltip: { enabled: false }, decor: c.decor },
      scales: {
        x: {
          type: 'linear', min: 30, max: 60, display: c.decor.panel === 'B',
          afterBuildTicks: s => { s.ticks = xTicks.map(v => ({ value: v })); },
          afterFit: s => { s.height = c.xHeight || 0; s.paddingLeft = 0; s.paddingRight = 0; },
          ticks: { display: false },
          grid: { display: false, drawTicks: false },
          border: { display: false },
          title: { display: true, text: 'Semi-Major Axis (AU)', color: '#333',
            font: { family: tickFont, size: 13, weight: 'bold' }, padding: { top: 0, bottom: c.xTitlePad || 0 } }
        },
        y: {
          type: 'linear', min: 0, max: c.yMax,
          afterBuildTicks: s => { s.ticks = c.decor.yTicks.map(v => ({ value: v })); },
          afterFit: s => { s.width = c.yWidth; s.paddingTop = 0; s.paddingBottom = 0; },
          ticks: { color: '#222', padding: c.tickPad, font: { family: tickFont, size: 14, weight: 'bold' },
            callback: v => v.toFixed(1) },
          grid: { display: false, drawTicks: false },
          border: { display: false },
          title: { display: true, text: c.yTitle, color: '#333',
            font: { family: serif, size: 12 }, padding: { top: c.yTitlePad, bottom: 0 } }
        }
      }
    },
    plugins: [decor]
  });
}

makePanel('obsA', {
  datasets: [curve(q30Curve), curve(q40Curve), dots(obsEccRed, RED, 3), dots(obsEccBlack, BLACK, 2), dots(obsEccGreen, GREEN, 1)],
  padding: { top: 9, right: 12, bottom: 1, left: 0 },
  yMax: 0.52, yWidth: 72.7, tickPad: 10, yTitle: 'Eccentricity', yTitlePad: 21.8,
  decor: { panel: 'A', yTicks: eccTicks, lineTop: 32, namesY: 19, letter: 'A)', letterX: 79, letterY: 24,
    notes: [{ text: 'q=30AU', a: 31.6, v: 0.038, align: 'left' }, { text: 'q=40AU', a: 59.95, v: 0.284, align: 'right' }],
    big: { text: 'Observations', x: 320, y: 232, w: 128, size: 22 } }
});
makePanel('obsB', {
  datasets: [dots(obsIncRed, RED, 3), dots(obsIncBlack, BLACK, 2), dots(obsIncGreen, GREEN, 1)],
  padding: { top: 0, right: 12, bottom: 0, left: 0 },
  yMax: 50, yWidth: 72.7, tickPad: 10, yTitle: 'Inclination (deg)', yTitlePad: 14.8,
  xHeight: 60, xTitlePad: 5.5,
  decor: { panel: 'B', yTicks: incTicks, letter: 'B)', letterX: 80, letterY: 16, tickGap: 13 }
});
makePanel('runA', {
  datasets: [curve(q30Curve), curve(q40Curve), dots(runEccRed, RED, 3), dots(runEccBlack, BLACK, 2), dots(runEccGreen, GREEN, 1)],
  padding: { top: 4, right: 12.3, bottom: 0.7, left: 0 },
  yMax: 0.52, yWidth: 70.7, tickPad: 8, yTitle: 'Eccentricity', yTitlePad: 22.8,
  decor: { panel: 'A', yTicks: eccTicks, lineTop: 28, namesY: 16.5, letter: 'A)', letterX: 78, letterY: 21,
    notes: [{ text: 'q=30AU', a: 31.5, v: 0.037, align: 'left' }, { text: 'q=40AU', a: 59.95, v: 0.282, align: 'right' }],
    big: { text: 'Run A', x: 332, y: 212, w: 56, size: 21 } }
});
makePanel('runB', {
  datasets: [dots(runIncRed, RED, 3), dots(runIncBlack, BLACK, 2), dots(runIncGreen, GREEN, 1)],
  padding: { top: 0.3, right: 12.3, bottom: 0, left: 0 },
  yMax: 50, yWidth: 70.7, tickPad: 10, yTitle: 'Inclination (deg.)', yTitlePad: 12.8,
  xHeight: 59, xTitlePad: 7.5,
  decor: { panel: 'B', yTicks: incTicks, letter: 'B)', letterX: 79, letterY: 16, tickGap: 10 }
});

// caption squeezed to the width it has in the slide
const caption = document.getElementById('caption');
const w = caption.getBoundingClientRect().width;
caption.style.transform = 'scaleX(' + (649 / w) + ')';
</script>
</body>
</html>
